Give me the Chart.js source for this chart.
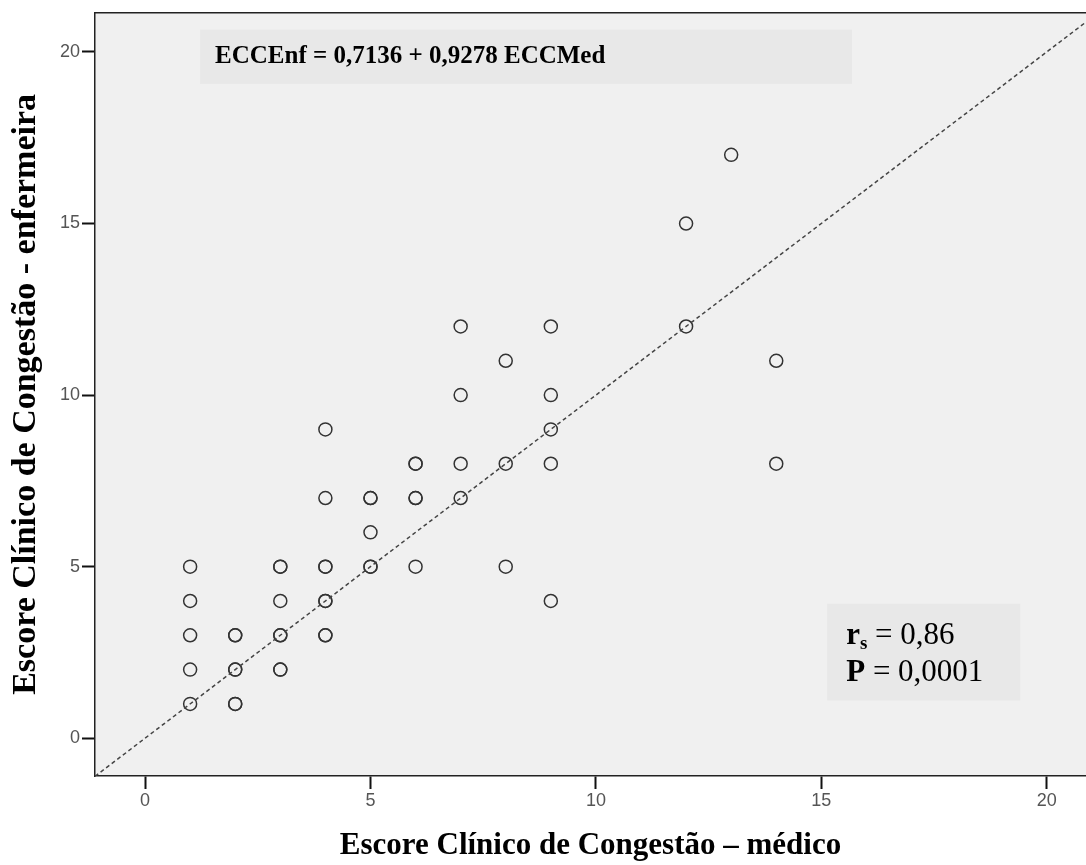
<!DOCTYPE html>
<html lang="en">
<head>
    <meta charset="UTF-8">
    <title>ECC médico x enfermeira</title>
    <script src="https://cdn.jsdelivr.net/npm/chart.js"></script>
    <style>
        body{
            margin: 0;
            background-color: white;
        }
        .caja{
            position: relative;
            width: 1086px;
            height: 865px;
        }
    </style>
</head>
<body>
    <div class="caja">
        <canvas id="miCanvas" width="1086" height="865"></canvas>
    </div>
    <script>
        // ECC medico (x) e enfermeira (y), repetidos = pontos sobrepostos
        const eccMedico = [1,1,1,1,1, 2,2,2,2,2,2, 3,3,3,3,3,3,3, 4,4,4,4,4,4,4,4, 5,5,5,5,5, 6,6,6,6,6, 7,7,7,7, 8,8,8, 9,9,9,9,9, 12,12, 13, 14,14];
        const eccEnfermeira = [5,4,3,2,1, 3,3,2,2,1,1, 5,5,4,3,3,2,2, 9,7,5,5,4,4,3,3, 7,7,6,5,5, 8,8,7,7,5, 12,10,8,7, 11,8,5, 12,10,9,8,4, 15,12, 17, 11,8];
        const linhaX = [-1.11, 20.87];
        const tickVals = [0, 5, 10, 15, 20];

        const pontos = eccMedico.map((x, i) => ({x: x, y: eccEnfermeira[i]}));
        const linha = linhaX.map(v => ({x: v, y: v}));

        const fundo = {
            id: 'fundo',
            beforeDraw(chart){
                const {ctx, chartArea: a} = chart;
                ctx.save();
                ctx.fillStyle = '#f0f0f0';
                ctx.fillRect(a.left, a.top, a.right - a.left, a.bottom - a.top);
                ctx.strokeStyle = '#222';
                ctx.lineWidth = 1.5;
                ctx.beginPath();
                ctx.moveTo(a.left, a.top);
                ctx.lineTo(a.right, a.top);
                ctx.stroke();
                // caixas de texto
                const xs = chart.scales.x, ys = chart.scales.y;
                ctx.fillStyle = '#e8e8e8';
                let x0 = xs.getPixelForValue(1.22), x1 = xs.getPixelForValue(15.68);
                let y0 = ys.getPixelForValue(20.65), y1 = ys.getPixelForValue(19.07);
                ctx.fillRect(x0, y0, x1 - x0, y1 - y0);
                ctx.fillStyle = 'black';
                ctx.font = 'bold 25px "Liberation Serif"';
                ctx.textBaseline = 'alphabetic';
                ctx.fillText('ECCEnf = 0,7136 + 0,9278 ECCMed', x0 + 15, y0 + 33);

                ctx.fillStyle = '#e8e8e8';
                x0 = xs.getPixelForValue(15.13); x1 = xs.getPixelForValue(19.41);
                y0 = ys.getPixelForValue(3.92); y1 = ys.getPixelForValue(1.10);
                ctx.fillRect(x0, y0, x1 - x0, y1 - y0);
                ctx.fillStyle = 'black';
                let tx = x0 + 19;
                ctx.font = 'bold 31px "Liberation Serif"';
                ctx.fillText('r', tx, y0 + 40);
                let w = ctx.measureText('r').width;
                ctx.font = 'bold 19px "Liberation Serif"';
                ctx.fillText('s', tx + w, y0 + 45);
                w += ctx.measureText('s').width;
                ctx.font = '31px "Liberation Serif"';
                ctx.fillText(' = 0,86', tx + w, y0 + 40);
                ctx.font = 'bold 31px "Liberation Serif"';
                ctx.fillText('P', tx, y0 + 77);
                w = ctx.measureText('P').width;
                ctx.font = '31px "Liberation Serif"';
                ctx.fillText(' = 0,0001', tx + w, y0 + 77);
                ctx.restore();
            }
        };

        new Chart(document.getElementById('miCanvas'), {
            type: 'scatter',
            data: {
                datasets: [
                    {
                        type: 'line',
                        data: linha,
                        borderColor: '#444',
                        borderWidth: 1.5,
                        borderDash: [4, 3],
                        pointRadius: 0,
                        fill: false
                    },
                    {
                        data: pontos,
                        pointStyle: 'circle',
                        pointRadius: 6.5,
                        pointBorderWidth: 1.5,
                        borderColor: '#333',
                        backgroundColor: 'rgba(0,0,0,0)'
                    }
                ]
            },
            options: {
                responsive: false,
                animation: false,
                layout: {autoPadding: false, padding: {top: 12, right: 0, left: 0, bottom: 0}},
                plugins: {
                    legend: {display: false},
                    tooltip: {enabled: false}
                },
                scales: {
                    x: {
                        type: 'linear',
                        min: linhaX[0],
                        max: linhaX[1],
                        afterBuildTicks: (s) => { s.ticks = tickVals.map(v => ({value: v})); },
                        afterFit: (s) => { s.height = 89; },
                        grid: {drawOnChartArea: false, drawTicks: true, tickLength: 13, tickColor: '#111', tickWidth: 2},
                        border: {display: true, color: '#222', width: 1.5},
                        ticks: {color: '#555', font: {family: '"Liberation Sans Narrow", "Liberation Sans"', size: 18}, padding: 1},
                        title: {
                            display: true,
                            text: 'Escore Clínico de Congestão – médico',
                            color: 'black',
                            font: {family: '"Liberation Serif"', size: 31, weight: 'bold'},
                            padding: {top: 0, bottom: 0}
                        }
                    },
                    y: {
                        type: 'linear',
                        min: -1.10,
                        max: 21.14,
                        afterBuildTicks: (s) => { s.ticks = tickVals.map(v => ({value: v})); },
                        afterFit: (s) => { s.width = 95; },
                        grid: {drawOnChartArea: false, drawTicks: true, tickLength: 13, tickColor: '#111', tickWidth: 2},
                        border: {display: true, color: '#222', width: 1.5},
                        ticks: {color: '#555', font: {family: '"Liberation Sans Narrow", "Liberation Sans"', size: 18}, padding: 2},
                        title: {
                            display: true,
                            text: 'Escore Clínico de Congestão - enfermeira',
                            color: 'black',
                            font: {family: '"Liberation Serif"', size: 34, weight: 'bold'},
                            padding: {top: 6, bottom: 0}
                        }
                    }
                }
            },
            plugins: [fundo]
        });
    </script>
</body>
</html>
